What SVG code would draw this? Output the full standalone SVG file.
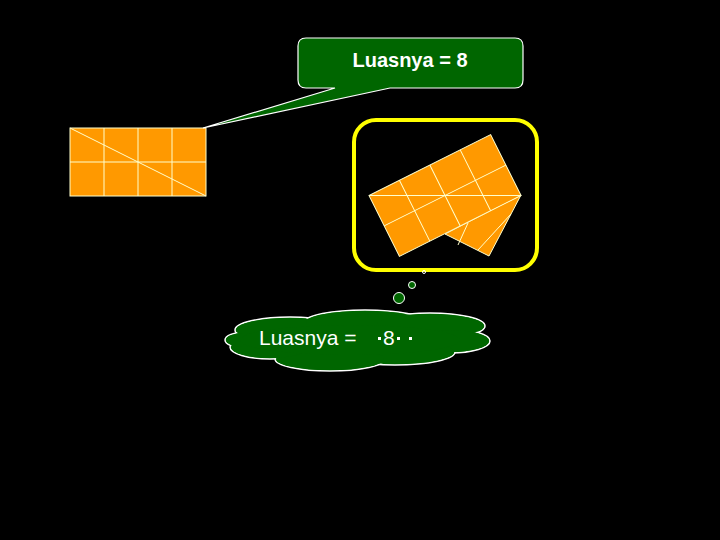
<svg xmlns="http://www.w3.org/2000/svg" width="720" height="540" viewBox="0 0 720 540">
<style>
.or{fill:#ff9900;stroke:#ffffcc;stroke-width:1}
.ln{stroke:#ffffcc;stroke-width:1;fill:none}
.gr{fill:#006600}
.cl ellipse{fill:#006600;stroke:#ffffff;stroke-width:1.5}
.cf ellipse{fill:#006600}
.ct{font-family:"Liberation Sans", Arial, sans-serif;font-size:21px;fill:#fff}
</style>
<rect width="720" height="540" fill="#000"/>
<g id="rect1">
<rect class="or" x="70" y="128" width="136" height="68"/>
<path class="ln" d="M104 128V196M138 128V196M172 128V196M70 162H206M70 128L206 196"/>
</g>
<g id="callout">
<path d="M310 38H515Q523 38 523 46V80Q523 88 515 88H390L203 128L335 88H306Q298 88 298 80V46Q298 38 306 38Z" class="gr" stroke="#fff" stroke-width="1.2"/>
<text x="410" y="67" text-anchor="middle" font-family="Liberation Sans, Arial, sans-serif" font-size="20" font-weight="bold" fill="#fff">Luasnya = 8</text>
</g>
<g id="frame">
<rect x="354" y="120" width="183" height="150" rx="22" fill="none" stroke="#ffff00" stroke-width="4"/>
</g>
<g id="rearranged">
<polygon class="or" points="445,234 489,256 521,195"/>
<path class="ln" d="M468,223L458,245M511,214L478,250"/>
<g transform="translate(369,195.5) rotate(-26.57)">
<rect class="or" x="0" y="0" width="136" height="68"/>
<path class="ln" d="M34 0V68M68 0V68M102 0V68M0 34H136M0 0L136 68"/>
</g>
</g>
<g id="bubbles">
<circle cx="399" cy="298" r="5.5" class="gr" stroke="#fff"/>
<circle cx="412" cy="285" r="3.5" class="gr" stroke="#fff"/>
<circle cx="424" cy="272" r="1.5" fill="none" stroke="#fff"/>
</g>
<g id="cloud">
<g class="cl">
<ellipse cx="290" cy="330" rx="55" ry="13"/>
<ellipse cx="365" cy="322" rx="60" ry="12"/>
<ellipse cx="430" cy="326" rx="55" ry="13"/>
<ellipse cx="450" cy="341" rx="40" ry="12"/>
<ellipse cx="395" cy="352" rx="60" ry="13"/>
<ellipse cx="330" cy="359" rx="55" ry="12"/>
<ellipse cx="270" cy="347" rx="40" ry="12"/>
<ellipse cx="245" cy="340" rx="20" ry="8"/>
</g>
<g class="cf">
<ellipse cx="290" cy="330" rx="54" ry="12"/>
<ellipse cx="365" cy="322" rx="59" ry="11"/>
<ellipse cx="430" cy="326" rx="54" ry="12"/>
<ellipse cx="450" cy="341" rx="39" ry="11"/>
<ellipse cx="395" cy="352" rx="59" ry="12"/>
<ellipse cx="330" cy="359" rx="54" ry="11"/>
<ellipse cx="270" cy="347" rx="39" ry="11"/>
<ellipse cx="245" cy="340" rx="19" ry="7"/>
<ellipse cx="350" cy="340" rx="110" ry="15"/>
</g>
<text x="259" y="345" class="ct">Luasnya =</text>
<text x="383" y="345" class="ct">8</text>
<rect x="378" y="337" width="3" height="3" fill="#fff"/>
<rect x="397" y="337" width="3" height="3" fill="#fff"/>
<rect x="409" y="337" width="3" height="3" fill="#fff"/>
</g>
</svg>
